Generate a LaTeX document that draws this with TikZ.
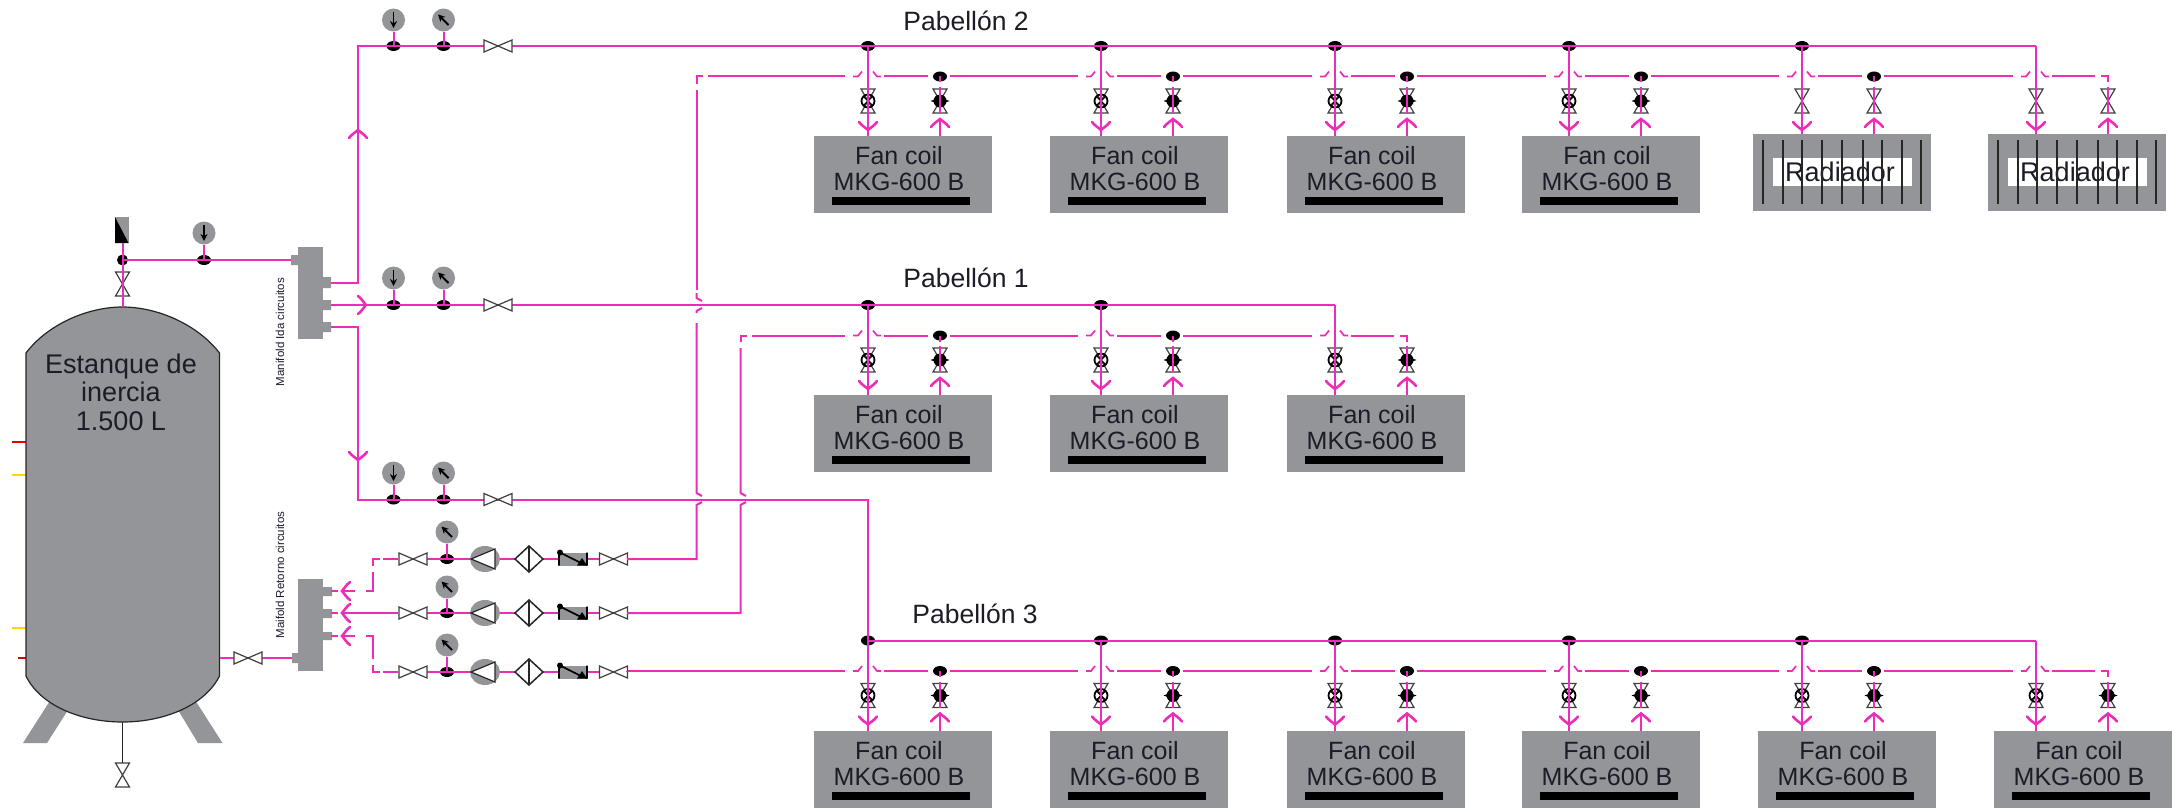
\documentclass[tikz,border=0pt]{standalone}
\usepackage{fontspec}
\setmainfont{Liberation Sans}
\usetikzlibrary{arrows.meta,shapes.geometric}
\definecolor{pipecol}{HTML}{EC2DB7}
\definecolor{bodygray}{HTML}{939598}
\definecolor{inkdark}{HTML}{1C1C28}
\tikzset{
  pipe/.style={draw=pipecol,line width=2pt,line join=miter},
  thinblack/.style={draw=black!85,line width=1.3pt},
  bowtie/.style={draw=black!75,fill=white,line width=1.2pt,line join=miter},
  unitbox/.style={fill=bodygray,draw=none,inner sep=0pt,minimum width=178pt,minimum height=77pt,anchor=north west},
  unittext/.style={text=inkdark,align=center,inner sep=0pt,font=\fontsize{25}{26}\selectfont},
  gaugenode/.style={circle,fill=bodygray,draw=none,minimum size=23pt,inner sep=0pt},
  teenode/.style={ellipse,fill=black,draw=none,minimum width=14pt,minimum height=10pt,inner sep=0pt},
  pointer/.style={draw=black,line width=1.8pt,-{Stealth[length=7pt,width=7pt]}},
  chevron/.style={draw=pipecol,line width=2.6pt,line cap=round},
  hvalve/.pic={\path[bowtie] (-14,-6)--(14,6)--(14,-6)--(-14,6)--cycle;},
  vvalve/.pic={\path[bowtie] (-7,-12)--(7,12)--(-7,12)--(7,-12)--cycle;},
  arrowchev/.pic={\draw[chevron] (-8,-9) .. controls (-4,-6) and (-2,-2) .. (0,0) .. controls (-2,2) and (-4,6) .. (-8,9);},
  ringsensor/.pic={\draw[draw=black,line width=1.8pt] (0,0) circle (6.5); \draw[draw=black,line width=1.3pt] (-4.5,-4.5)--(4.5,4.5) (-4.5,4.5)--(4.5,-4.5);},
  solidsensor/.pic={\fill[black] (0,0) circle (6.5); \fill[black] (-9.5,0)--(0,-3.5)--(9.5,0)--(0,3.5)--cycle;},
  pumpicon/.pic={\fill[bodygray] (0,0) ellipse (15 and 13); \path[draw=black!85,fill=white,line width=1.2pt,line join=miter] (-14,0)--(10,-10)--(10,10)--cycle;},
  filtericon/.pic={\path[draw=black!85,fill=white,line width=1.5pt,line join=miter] (-14,0)--(0,-13)--(14,0)--(0,13)--cycle; \draw[thinblack] (0,-13)--(0,13);},
  checkicon/.pic={\fill[bodygray] (0,-6.5) rectangle (28,6.5);
    \draw[draw=black,line width=1.6pt] (0,-6.5)--(0,6.5) (28,-6.5)--(28,6.5) (1,-6.5)--(22,4);
    \fill[black] (1,-6.5) circle (3); \fill[black] (18,6.5)--(28,6.5)--(23,-1)--cycle;},
}
\newcommand{\instrument}[5]{% id, x, ypipe, ygauge, kind (d or n)
  \node[teenode] (t#1) at (#2,#3) {};
  \node[gaugenode] (g#1) at (#2,#4) {};
  \draw[pipe] (g#1.south) -- (t#1.center);
  \if#5d\draw[pointer] (#2,#4-8) -- (#2,#4+8);\else\draw[pointer] (#2+5,#4+5) -- (#2-5.5,#4-5.5);\fi
}
% pavilion: id, Y supply, list S/R/boxleft/kind/last, previous x for the first return piece
\newcommand{\pavilion}[4]{%
  \pgfmathsetmacro{\yr}{#2+30.5}
  \foreach \sx/\rx/\bx/\kd/\en [remember=\rx as \rp (initially #4)] in {#3}{
    \ifnum\kd=1
      \node[unitbox] (box#1-\sx) at (\bx,#2+90) {};
      \node[unittext] at (\bx+85,#2+90+33) {Fan coil\\MKG-600 B};
      \fill[black] (\bx+18,#2+151) rectangle (\bx+156,#2+159);
    \else
      \node[unitbox] (box#1-\sx) at (\bx,#2+88) {};
      \fill[white] (\bx+20,#2+112) rectangle (\bx+159,#2+140);
      \node[unittext,font=\fontsize{27}{28}\selectfont] at (\bx+87,#2+126) {Radiador};
      \foreach \ox in {10,30,49,69,89,110,129,149,168}
        \draw[thinblack] (\bx+\ox,#2+94) -- (\bx+\ox,#2+158);
    \fi
    % named joints of this pair
    \coordinate (s#1-\sx) at (\sx,#2);
    \coordinate (sb#1-\sx) at (\sx,#2+\ifnum\kd=1 90\else 88\fi);
    \coordinate (ra#1-\sx) at (\rx,#2+41);
    \coordinate (rb#1-\sx) at (\rx,#2+67);
    \coordinate (rc#1-\sx) at (\rx,#2+74);
    \coordinate (rd#1-\sx) at (\rx,#2+\ifnum\kd=1 90\else 88\fi);
    % valves and sensors
    \pic at (\sx,#2+55) {vvalve};
    \pic at (\rx,#2+55) {vvalve};
    \ifnum\kd=1
      \pic at (\sx,#2+55) {ringsensor};
      \pic at (\rx,#2+55) {solidsensor};
    \fi
    % supply side
    \ifnum\en=0 \node[teenode] at (s#1-\sx) {}; \fi
    \draw[pipe] (s#1-\sx) -- (sb#1-\sx);
    \pic[rotate=-90] at (\sx,#2+84) {arrowchev};
    % return line with its jump over the supply branch
    \coordinate (ja#1-\sx) at (\rp+10,\yr);
    \coordinate (jb#1-\sx) at (\sx-23,\yr);
    \coordinate (jc#1-\sx) at (\sx+16,\yr);
    \draw[pipe] (ja#1-\sx) -- (jb#1-\sx);
    \draw[pipe,line width=1.7pt] (\sx-15,\yr) -- (\sx-10,\yr) -- (\sx-6,\yr-5);
    \draw[pipe,line width=1.7pt] (\sx+5,\yr-5) -- (\sx+9,\yr) -- (\sx+13,\yr);
    \ifnum\en=0
      \coordinate (r#1-\sx) at (\rx,\yr);
      \coordinate (je#1-\sx) at (\rx-12,\yr);
      \node[teenode] at (\rx,\yr) {};
      \draw[pipe] (jc#1-\sx) -- (je#1-\sx);
      \draw[pipe] (r#1-\sx) -- (\rx,\yr+6);
    \else
      \coordinate (je#1-\sx) at (\rx-13,\yr);
      \draw[pipe] (jc#1-\sx) -- (je#1-\sx);
      \draw[pipe] (\rx-7,\yr) -- (\rx,\yr) -- (\rx,\yr+6);
    \fi
    \draw[pipe] (ra#1-\sx) -- (rb#1-\sx);
    \draw[pipe] (rc#1-\sx) -- (rd#1-\sx);
    \pic[rotate=90] at (\rx,#2+73) {arrowchev};
  }
}
\newcommand{\returnrow}[3]{% id, y, kind: pump group and gauge
  \coordinate (va#1) at (413,#2);
  \coordinate (pu#1) at (485,#2);
  \coordinate (fi#1) at (529,#2);
  \coordinate (ch#1) at (559,#2);
  \coordinate (vb#1) at (613.5,#2);
  \instrument{r#1}{447}{#2}{#3}{n}
  \draw[pipe] (va#1) -- (pu#1);
  \draw[pipe] (pu#1) -- (fi#1);
  \draw[pipe] (fi#1) -- (ch#1);
  \draw[pipe] (ch#1) -- (vb#1);
  \pic at (va#1) {hvalve};
  \pic at (pu#1) {pumpicon};
  \pic at (fi#1) {filtericon};
  \pic at (ch#1) {checkicon};
  \pic at (vb#1) {hvalve};
}
\begin{document}
\begin{tikzpicture}[x=1pt,y=-1pt]
\path[use as bounding box,fill=white] (0,0) rectangle (2174,808);

% ---------- tank ----------
\fill[bodygray] (50.5,700) -- (68,710) -- (47,743) -- (23,743) -- cycle;
\fill[bodygray] (195,700) -- (178,710) -- (198,743) -- (222.5,743) -- cycle;
\draw[draw=red!90!black,line width=1.5pt] (12,442) -- (26,442) (18,658) -- (26,658);
\draw[draw=yellow!75!orange,line width=1.5pt] (12,475) -- (26,475) (12,628) -- (26,628);
\coordinate (tanktop) at (122.5,307);
\coordinate (tankbot) at (122.5,722);
\coordinate (tankout) at (219.5,658);
\path[draw=black!85,fill=bodygray,line width=1.2pt]
  (26,353) .. controls (48,324) and (88,307) .. (122.5,307)
  .. controls (157,307) and (197,324) .. (219.5,353)
  -- (219.5,676) .. controls (205,705) and (165,722) .. (122.5,722)
  .. controls (80,722) and (40,705) .. (26,676) -- cycle;
\node[text=inkdark,align=center,inner sep=0pt,font=\fontsize{27}{28.5}\selectfont] (tanklabel) at (121,392) {Estanque de\\inercia\\1.500 L};

% drain
\coordinate (drainv) at (122.5,775);
\draw[thinblack] (tankbot) -- (drainv);
\pic at (drainv) {vvalve};

% ---------- supply manifold ----------
\node[fill=bodygray,inner sep=0pt,minimum width=25pt,minimum height=92pt] (mansup) at (310.5,293) {};
\fill[bodygray] (291,255) rectangle (298,265)
  (323,277) rectangle (331,288) (323,300) rectangle (331,310) (323,322) rectangle (331,332);
\node[rotate=90,inner sep=0pt,text=inkdark,font=\fontsize{11.5}{12}\selectfont] at (280,332) {Manifold Ida circuitos};
% ---------- return manifold ----------
\node[fill=bodygray,inner sep=0pt,minimum width=25pt,minimum height=92pt] (manret) at (310.5,625) {};
\fill[bodygray] (292,653) rectangle (298,663)
  (323,587) rectangle (332,596) (323,609) rectangle (332,618) (323,632) rectangle (332,640);
\node[rotate=90,inner sep=0pt,text=inkdark,font=\fontsize{11.5}{12}\selectfont] at (280,575) {Maifold Retorno circuitos};

% ---------- inlet from tank ----------
\coordinate (ventv) at (122.5,284);
\coordinate (ventb) at (122.5,243);
\coordinate (supin) at (291,260);
\node[teenode,minimum width=11pt,minimum height=11pt] (ta) at (122.5,260) {};
\fill[bodygray] (115,217) rectangle (128.5,243);
\fill[black] (115,217) -- (128.5,243) -- (115,243) -- cycle;
\instrument{b}{204}{260}{233}{d}
\pic at (ventv) {vvalve};
\draw[pipe] (ventb) -- (tanktop);
\draw[pipe] (ta.center) -- (supin);

% ---------- supply main lines ----------
\coordinate (o1) at (331,283);
\coordinate (o2) at (331,305);
\coordinate (o3) at (331,327);
\coordinate (c1) at (358,283);
\coordinate (c2) at (358,46);
\coordinate (c3) at (358,327);
\coordinate (c4) at (358,499.5);
\coordinate (v2) at (498,46);
\coordinate (v1) at (498,305);
\coordinate (v3) at (498,499.5);
\instrument{21}{393.5}{46}{20}{d}
\instrument{22}{443.5}{46}{20}{n}
\instrument{11}{393.5}{305}{278}{d}
\instrument{12}{443.5}{305}{278}{n}
\instrument{31}{393.5}{499.5}{473}{d}
\instrument{32}{443.5}{499.5}{473}{n}

\pavilion{2}{46}{868/940/814/1/0,1101/1173/1050/1/0,1335/1407/1287/1/0,1569/1641/1522/1/0,1802/1874/1753/0/0,2036/2108/1988/0/1}{698}
\pavilion{1}{305}{868/940/814/1/0,1101/1173/1050/1/0,1335/1407/1287/1/1}{742}
\pavilion{3}{640.5}{868/940/814/1/0,1101/1173/1050/1/0,1335/1407/1287/1/0,1569/1641/1522/1/0,1802/1874/1758/1/0,2036/2108/1994/1/1}{617}

\draw[pipe] (o1) -- (c1) -- (c2) -- (v2);
\draw[pipe] (v2) -- (s2-2036);
\draw[pipe] (o2) -- (v1);
\draw[pipe] (v1) -- (s1-1335);
\draw[pipe] (o3) -- (c3) -- (c4) -- (v3);
\draw[pipe] (v3) -- (868,499.5) -- (s3-868);
\draw[pipe] (s3-868) -- (s3-2036);
\pic at (v2) {hvalve};
\pic at (v1) {hvalve};
\pic at (v3) {hvalve};
\pic[rotate=90] at (358,130) {arrowchev};
\pic at (366,305) {arrowchev};
\pic[rotate=-90] at (358,460) {arrowchev};

% ---------- return rows ----------
\returnrow{1}{559}{532}
\returnrow{2}{613}{587}
\returnrow{3}{672}{645}
\coordinate (ret1) at (696.5,559);
\coordinate (ret2) at (740.5,613);
\coordinate (e1) at (627,559);
\coordinate (e2) at (627,613);
\draw[pipe] (e1) -- (ret1) -- (696.5,505) -- (702,502);
\draw[pipe] (702,496) -- (696.5,493) -- (696.5,323);
\draw[pipe] (696.5,313) -- (696.5,311) -- (702,308);
\draw[pipe] (702,301) -- (696.5,298) -- (696.5,293);
\draw[pipe] (696.5,290) -- (696.5,90);
\draw[pipe] (696.5,84) -- (696.5,76.5) -- (703,76.5);
\draw[pipe] (e2) -- (ret2) -- (740.5,505) -- (746,502);
\draw[pipe] (746,496) -- (740.5,493) -- (740.5,348);
\draw[pipe] (740.5,342) -- (740.5,335.5) -- (747,335.5);
% row 1 toward the manifold
\draw[pipe] (398,559) -- (383,559);
\draw[pipe] (380,559) -- (373,559) -- (373,566);
\draw[pipe] (373,572) -- (373,591) -- (366,591);
\draw[pipe] (355,591) -- (343,591);
\draw[pipe] (338,591) -- (331,591);
\pic[rotate=180] at (342,591) {arrowchev};
% row 2
\draw[pipe] (398,613) -- (343,613);
\draw[pipe] (338,613) -- (331,613);
\pic[rotate=180] at (342,613) {arrowchev};
% row 3
\draw[pipe] (398,672) -- (383,672);
\draw[pipe] (380,672) -- (373,672) -- (373,665);
\draw[pipe] (373,659) -- (373,636) -- (366,636);
\draw[pipe] (355,636) -- (343,636);
\draw[pipe] (338,636) -- (331,636);
\pic[rotate=180] at (342,636) {arrowchev};
\coordinate (e3) at (627,672);
\draw[pipe] (e3) -- (ja3-868);
% tank outlet
\coordinate (tv) at (248,658);
\coordinate (retin) at (292,658);
\draw[pipe] (tankout) -- (retin);
\pic at (tv) {hvalve};

% ---------- titles ----------
\node[text=inkdark,inner sep=0pt,font=\fontsize{26.5}{28}\selectfont] at (966,21) {Pabellón 2};
\node[text=inkdark,inner sep=0pt,font=\fontsize{26.5}{28}\selectfont] at (966,278) {Pabellón 1};
\node[text=inkdark,inner sep=0pt,font=\fontsize{26.5}{28}\selectfont] at (975,614) {Pabellón 3};
\end{tikzpicture}
\end{document}
